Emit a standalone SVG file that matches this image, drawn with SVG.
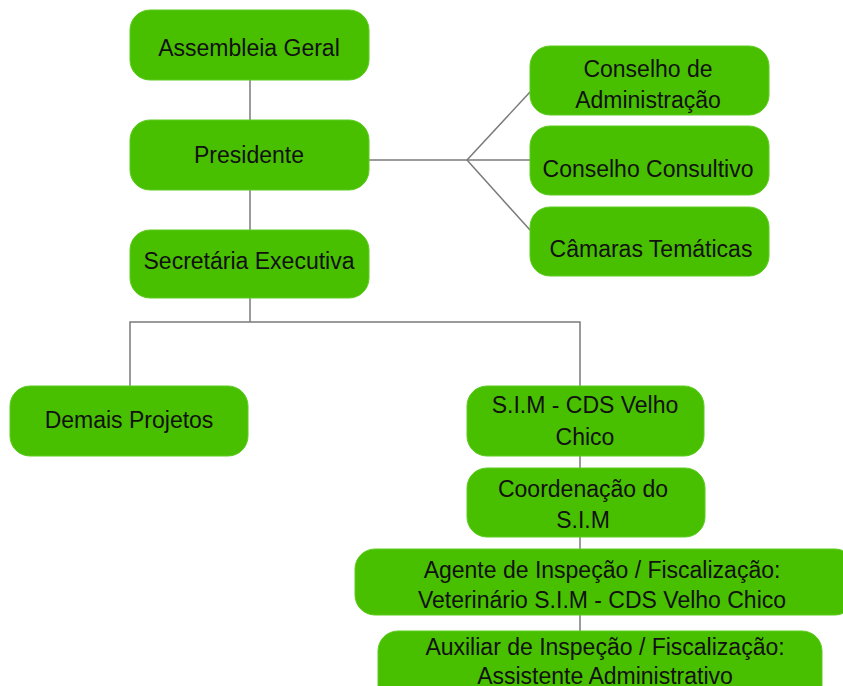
<svg xmlns="http://www.w3.org/2000/svg" width="843" height="686" viewBox="0 0 843 686">
<style>
.n{fill:#48c000;stroke:#5ccc20;stroke-width:1}
.t{font-family:"Liberation Sans",Arial,sans-serif;font-size:23px;fill:#111;text-anchor:middle}
.c{stroke:#7a7a7a;stroke-width:1.5;fill:none}
</style>
<rect width="843" height="686" fill="#fff"/>
<g id="connectors">
<line class="c" x1="250" y1="80" x2="250" y2="120"/>
<line class="c" x1="250" y1="190" x2="250" y2="230"/>
<polyline class="c" points="369,160 467,160"/>
<line class="c" x1="467" y1="160" x2="530" y2="92"/>
<line class="c" x1="467" y1="160" x2="530" y2="160"/>
<line class="c" x1="467" y1="160" x2="530" y2="230"/>
<line class="c" x1="250" y1="298" x2="250" y2="322"/>
<polyline class="c" points="130,386 130,322 580,322 580,386"/>
<line class="c" x1="580" y1="456" x2="580" y2="468"/>
<line class="c" x1="580" y1="537" x2="580" y2="549"/>
<line class="c" x1="580" y1="615" x2="580" y2="631"/>
</g>
<g id="assembleia"><rect class="n" x="130" y="10" width="239" height="70" rx="20"/><text class="t" x="249" y="56">Assembleia Geral</text></g>
<g id="presidente"><rect class="n" x="130" y="120" width="239" height="70" rx="20"/><text class="t" x="249" y="163">Presidente</text></g>
<g id="secretaria"><rect class="n" x="130" y="230" width="239" height="68" rx="20"/><text class="t" x="249" y="269">Secretária Executiva</text></g>
<g id="conselho-admin"><rect class="n" x="530" y="46" width="239" height="69" rx="20"/><text class="t" x="648" y="77">Conselho de</text><text class="t" x="648" y="108">Administração</text></g>
<g id="conselho-consultivo"><rect class="n" x="530" y="126" width="239" height="69" rx="20"/><text class="t" x="648" y="177">Conselho Consultivo</text></g>
<g id="camaras"><rect class="n" x="530" y="207" width="239" height="69" rx="20"/><text class="t" x="651" y="257">Câmaras Temáticas</text></g>
<g id="demais"><rect class="n" x="10" y="386" width="238" height="70" rx="20"/><text class="t" x="129" y="428">Demais Projetos</text></g>
<g id="sim"><rect class="n" x="467" y="386" width="237" height="70" rx="20"/><text class="t" x="585" y="413">S.I.M - CDS Velho</text><text class="t" x="585" y="445">Chico</text></g>
<g id="coordenacao"><rect class="n" x="467" y="468" width="238" height="69" rx="20"/><text class="t" x="583" y="497">Coordenação do</text><text class="t" x="583" y="528">S.I.M</text></g>
<g id="agente"><rect class="n" x="355" y="549" width="500" height="66" rx="20"/><text class="t" x="602" y="578">Agente de Inspeção / Fiscalização:</text><text class="t" x="602" y="608">Veterinário S.I.M - CDS Velho Chico</text></g>
<g id="auxiliar"><rect class="n" x="378" y="631" width="444" height="80" rx="20"/><text class="t" x="605" y="655">Auxiliar de Inspeção / Fiscalização:</text><text class="t" x="605" y="684">Assistente Administrativo</text></g>
</svg>
